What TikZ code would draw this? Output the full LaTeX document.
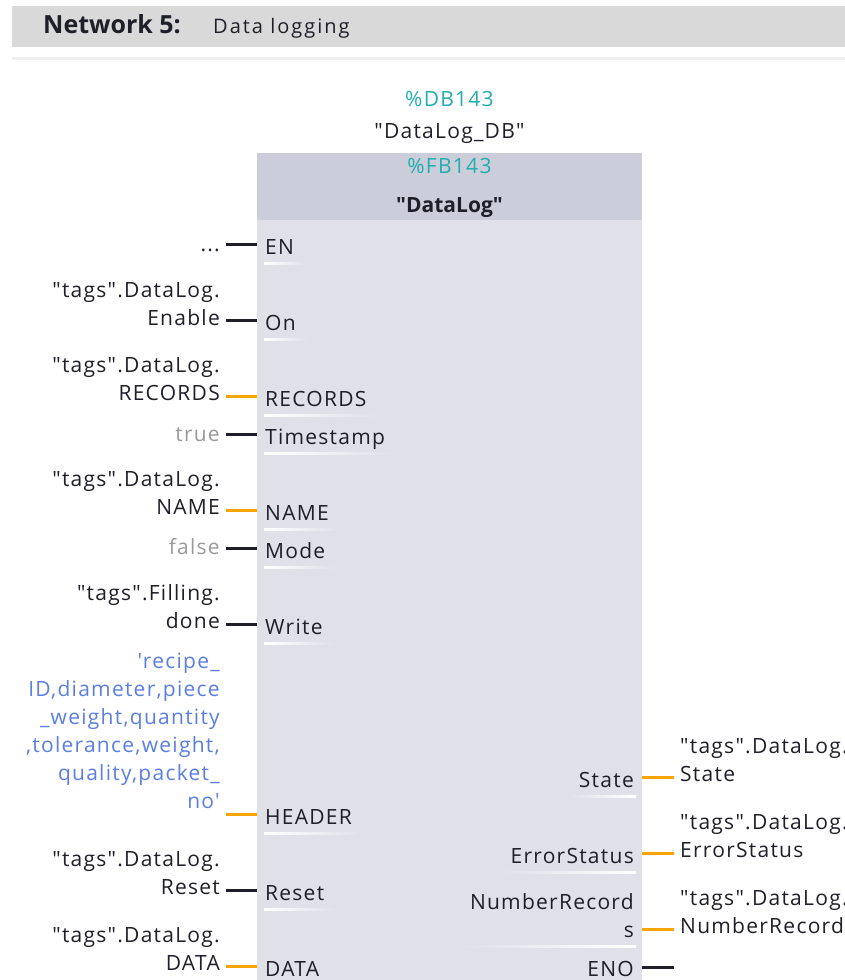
\documentclass[tikz,border=0pt]{standalone}
\usepackage{fontspec}
\setmainfont{Open Sans}[LetterSpace=6, Ligatures=TeXOff]
\newfontfamily\tightfont{Open Sans}[Ligatures=TeXOff]
\newfontfamily\widefont{Open Sans}[LetterSpace=10, Ligatures=TeXOff]
\usepackage{tikz}
\usetikzlibrary{positioning, calc}
\usepackage{xcolor}
\definecolor{band-gray}{HTML}{D9D9D9}
\definecolor{sep-gray}{HTML}{EFEFEF}
\definecolor{fb-head}{HTML}{CBCDDA}
\definecolor{fb-body}{HTML}{DFE0E8}
\definecolor{tia-teal}{HTML}{22ADB0}
\definecolor{tia-blue}{HTML}{5B7EE5}
\definecolor{tia-gray}{HTML}{9A9A9A}
\definecolor{tia-text}{HTML}{1F1F29}
\definecolor{tia-orange}{HTML}{F7A300}

\begin{document}
\begin{tikzpicture}[x=1pt, y=-1pt,
  every node/.style={inner sep=0pt, text=tia-text, font=\fontsize{21}{28}\selectfont},
  pin/.style={anchor=base west},
  opin/.style={anchor=base east, align=right},
  val/.style={anchor=base east, align=right},
  oval/.style={anchor=base west, align=left},
  wire/.style={line width=3pt, tia-text},
  bus/.style={line width=3pt, tia-orange}]
\useasboundingbox (0,0) rectangle (845,980);
\clip (0,0) rectangle (845,980);

% network title bar
\fill[band-gray] (12,6) rectangle (845,47);
\fill[sep-gray] (12,57) rectangle (845,60);
\node[anchor=base west, font=\tightfont\fontsize{25}{28}\selectfont\bfseries] (netno) at (43,33) {Network 5:};
\node[anchor=base west, font=\widefont\fontsize{20}{28}\selectfont] (nettitle) at (213,33) {Data logging};

% the block
\node[fill=fb-body, minimum width=385pt, minimum height=840pt, anchor=north west] (fb) at (257,153) {};
\fill[fb-head] (fb.north west) rectangle ($(fb.north east)+(0,67)$);
\node[anchor=base, text=tia-teal] (db) at (449.5,106) {\%DB143};
\node[anchor=base] (dbname) at (449.5,138) {"DataLog\_DB"};
\node[anchor=base, text=tia-teal] (fbno) at (449.5,173) {\%FB143};
\node[anchor=base, font=\tightfont\fontsize{21}{28}\selectfont\bfseries] (fbname) at (449.5,212) {"DataLog"};

% inputs
\node[pin] (en) at (265,254) {EN};
\node[pin] (on) at (265,330) {On};
\node[pin] (rec) at (265,406) {RECORDS};
\node[pin] (ts) at (265,444) {Timestamp};
\node[pin] (name) at (265,520) {NAME};
\node[pin] (mode) at (265,558) {Mode};
\node[pin] (write) at (265,634) {Write};
\node[pin] (header) at (265,824) {HEADER};
\node[pin] (reset) at (265,900) {Reset};
\node[pin] (data) at (265,976) {DATA};

\node[val] (en-v) at (220,251) {...};
\node[val] (on-v) at (220,325) {"tags".DataLog.\\Enable};
\node[val] (rec-v) at (220,400) {"tags".DataLog.\\RECORDS};
\node[val, text=tia-gray] (ts-v) at (220,441) {true};
\node[val] (name-v) at (220,514) {"tags".DataLog.\\NAME};
\node[val, text=tia-gray] (mode-v) at (220,554) {false};
\node[val] (write-v) at (220,628) {"tags".Filling.\\done};
\node[val, text=tia-blue] (header-v) at (220,808)
  {'recipe\_\\ID,diameter,piece\\\_weight,quantity\\,tolerance,weight,\\quality,packet\_\\no'};
\node[val] (reset-v) at (220,894) {"tags".DataLog.\\Reset};
\node[val] (data-v) at (220,970) {"tags".DataLog.\\DATA};

% outputs
\node[opin] (state) at (634,787) {State};
\node[opin] (err) at (634,863) {ErrorStatus};
\node[opin] (nrec) at (634,937) {NumberRecord\\s};
\node[opin] (eno) at (634,976) {ENO};

\node[oval] (state-v) at (680,781) {"tags".DataLog.\\State};
\node[oval] (err-v) at (680,857) {"tags".DataLog.\\ErrorStatus};
\node[oval] (nrec-v) at (680,933) {"tags".DataLog.\\NumberRecords};

% pin underlines
\foreach \p in {en,on,rec,ts,name,mode,write,header,reset,data}
  \shade[left color=white, right color=fb-body] ($(\p.base west)+(-1,8)$) rectangle ($(\p.base east)+(12,10)$);
\foreach \p in {state,err,nrec}
  \shade[left color=fb-body, right color=white] ($(\p.base west)+(-12,8)$) rectangle ($(\p.base east)+(2,10)$);

% wires
\coordinate (en-w) at (226,244);
\coordinate (on-w) at (226,320);
\coordinate (rec-w) at (226,396);
\coordinate (ts-w) at (226,434);
\coordinate (name-w) at (226,510);
\coordinate (mode-w) at (226,548);
\coordinate (write-w) at (226,624);
\coordinate (header-w) at (226,814);
\coordinate (reset-w) at (226,890);
\coordinate (data-w) at (226,966);
\coordinate (state-w) at (674,777);
\coordinate (err-w) at (674,853);
\coordinate (nrec-w) at (674,929);
\coordinate (eno-w) at (674,967);
\draw
  (en-w) edge[wire] (fb.west |- en-w)
  (on-w) edge[wire] (fb.west |- on-w)
  (rec-w) edge[bus] (fb.west |- rec-w)
  (ts-w) edge[wire] (fb.west |- ts-w)
  (name-w) edge[bus] (fb.west |- name-w)
  (mode-w) edge[wire] (fb.west |- mode-w)
  (write-w) edge[wire] (fb.west |- write-w)
  (header-w) edge[bus] (fb.west |- header-w)
  (reset-w) edge[wire] (fb.west |- reset-w)
  (data-w) edge[bus] (fb.west |- data-w)
  (fb.east |- state-w) edge[bus] (state-w)
  (fb.east |- err-w) edge[bus] (err-w)
  (fb.east |- nrec-w) edge[bus] (nrec-w)
  (fb.east |- eno-w) edge[wire] (eno-w);
\end{tikzpicture}
\end{document}
